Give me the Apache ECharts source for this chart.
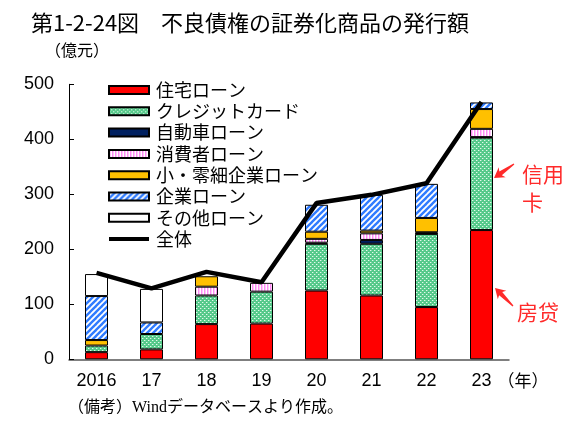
<!DOCTYPE html>
<html>
<head>
<meta charset="utf-8">
<script src="https://cdn.jsdelivr.net/npm/echarts@6/dist/echarts.min.js"></script>
<style>
html,body{margin:0;padding:0;background:#fff;}
#c{width:578px;height:436px;}
</style>
</head>
<body>
<div id="c"></div>
<script>
// ---- data ----
var years = ['2016', '17', '18', '19', '20', '21', '22', '23'];
var housing   = [13, 18, 64, 65, 125, 116, 95, 235];
var credit    = [12, 28, 52, 58, 85, 94, 133, 168];
var autoLoan  = [0, 0, 0, 0, 2, 7, 1, 1];
var consumer  = [0, 0, 16, 16, 7, 12, 2, 15];
var smallBiz  = [10, 0, 19, 0, 13, 5, 26, 36];
var corporate = [80, 21, 0, 0, 49, 65, 62, 12];
var otherLoan = [40, 61, 0, 0, 0, 0, 0, 0];
var total     = [157, 129, 159, 140, 284, 299, 320, 468];
var seriesNames = ['住宅ローン', 'クレジットカード', '自動車ローン', '消費者ローン', '小・零細企業ローン', '企業ローン', 'その他ローン', '全体'];
var yTicks = [0, 100, 200, 300, 400, 500];

// ---- patterns ----
function makeCanvas(w, h, draw) {
  var c = document.createElement('canvas');
  c.width = w; c.height = h;
  draw(c.getContext('2d'), w, h);
  return c;
}
var greenPat = makeCanvas(4, 4, function (g) {
  g.fillStyle = '#55c98a'; g.fillRect(0, 0, 4, 4);
  g.fillStyle = '#e2f8eb'; g.fillRect(0, 0, 1, 1); g.fillRect(2, 2, 1, 1);
  g.fillStyle = '#8adcaf'; g.fillRect(1, 0, 1, 1); g.fillRect(3, 2, 1, 1);
});
var pinkPat = makeCanvas(3, 3, function (g) {
  g.fillStyle = '#ffffff'; g.fillRect(0, 0, 3, 3);
  g.fillStyle = '#ff8cf5'; g.fillRect(0, 0, 1, 3);
  g.fillStyle = '#ffc8fa'; g.fillRect(1, 0, 1, 3);
});
var bluePat = makeCanvas(6, 6, function (g, w, h) {
  g.fillStyle = '#ffffff'; g.fillRect(0, 0, w, h);
  g.strokeStyle = '#2f7bff'; g.lineWidth = 2.4;
  for (var k = -2; k <= 2; k++) {
    g.beginPath(); g.moveTo(k * 6 - 1, h + 1); g.lineTo(k * 6 + w + 1, -1); g.stroke();
  }
});

var fills = ['#ff0000', {image: greenPat, repeat: 'repeat'}, '#002060', {image: pinkPat, repeat: 'repeat'},
             '#ffc000', {image: bluePat, repeat: 'repeat'}, '#ffffff'];
var barData = [housing, credit, autoLoan, consumer, smallBiz, corporate, otherLoan];

var series = barData.map(function (arr, i) {
  return {
    name: seriesNames[i], type: 'bar', stack: 'all', barWidth: 23,
    data: arr.map(function (v) { return v === 0 ? '-' : v; }),
    itemStyle: {color: fills[i], borderColor: '#000', borderWidth: 1},
    emphasis: {disabled: true}
  };
});
series.push({
  name: seriesNames[7], type: 'line', data: total, symbol: 'none', z: 10,
  lineStyle: {color: '#000', width: 4.5}, itemStyle: {color: '#000'}
});

function arrow(tip, tail) {
  var dx = tail[0] - tip[0], dy = tail[1] - tip[1];
  var L = Math.sqrt(dx * dx + dy * dy);
  var ux = dx / L, uy = dy / L, nx = -uy, ny = ux;
  var hl = 10, hw = 6, sw = 2.2;
  function p(a, b) { return [tip[0] + ux * a + nx * b, tip[1] + uy * a + ny * b]; }
  return {
    type: 'polygon', silent: true,
    shape: {points: [p(0, 0), p(hl, hw), p(hl - 2, sw), p(L, 0.6), p(L, -0.6), p(hl - 2, -sw), p(hl, -hw)]},
    style: {fill: '#ff2a2a'}
  };
}

var legendData = seriesNames.map(function (n, i) {
  return i === 7 ? {name: n, itemStyle: {color: 'rgba(0,0,0,0)', borderColor: 'rgba(0,0,0,0)', borderWidth: 0, opacity: 0},
                    lineStyle: {width: 4, color: '#000'}} : {name: n, icon: 'rect'};
});

var chart = echarts.init(document.getElementById('c'), null, {renderer: 'canvas'});
chart.setOption({
  animation: false,
  textStyle: {fontFamily: 'Noto Sans CJK JP'},
  title: {
    text: '第1-2-24図　不良債権の証券化商品の発行額', left: 26, top: 7,
    textStyle: {fontSize: 22, fontWeight: 'normal', color: '#000', fontFamily: 'Noto Sans CJK JP'}
  },
  legend: {
    orient: 'vertical', left: 107, top: 81, padding: 0,
    itemWidth: 40, itemHeight: 8, itemGap: 3.3,
    data: legendData,
    textStyle: {fontSize: 18, lineHeight: 18, color: '#000', padding: [0, 0, 0, 2]}
  },
  grid: {left: 69, right: 69, top: 84.3, bottom: 76.7, containLabel: false},
  xAxis: {
    type: 'category', data: years,
    axisLine: {lineStyle: {color: '#555', width: 1.5}},
    axisTick: {show: false},
    axisLabel: {fontSize: 18, color: '#000', margin: 13, fontFamily: 'Liberation Sans'},
    name: '（年）', nameLocation: 'end', nameGap: -14,
    nameTextStyle: {fontSize: 17, color: '#000', align: 'left', verticalAlign: 'top', padding: [13, 0, 0, 0]}
  },
  yAxis: {
    type: 'value', min: yTicks[0], max: yTicks[yTicks.length - 1], interval: 100,
    axisLine: {show: true, lineStyle: {color: '#000', width: 1}},
    axisTick: {show: true, inside: true, length: 5, lineStyle: {color: '#000'}},
    splitLine: {show: false},
    axisLabel: {fontSize: 18, color: '#000', margin: 15, fontFamily: 'Liberation Sans'},
    name: '（億元）', nameLocation: 'end', nameGap: 34,
    nameTextStyle: {fontSize: 16, color: '#000', align: 'center', verticalAlign: 'middle', padding: [0, 0, 0, 16]}
  },
  series: series,
  graphic: [
    {type: 'text', left: 68, top: 400, silent: true,
     style: {text: '（備考）Windデータベースより作成。', fontSize: 16, fill: '#000', fontFamily: 'Liberation Serif, Noto Sans CJK JP'}},
    {type: 'text', left: 522, top: 160, silent: true,
     style: {text: '信用\n卡', fontSize: 21, lineHeight: 28, fill: '#ff2a2a', fontFamily: 'Noto Sans CJK SC'}},
    {type: 'text', left: 517, top: 302, silent: true,
     style: {text: '房贷', fontSize: 21, fill: '#ff2a2a', fontFamily: 'Noto Sans CJK SC'}},
    arrow([494, 178], [514, 164]),
    arrow([495, 288], [513, 306])
  ]
});
</script>
</body>
</html>
